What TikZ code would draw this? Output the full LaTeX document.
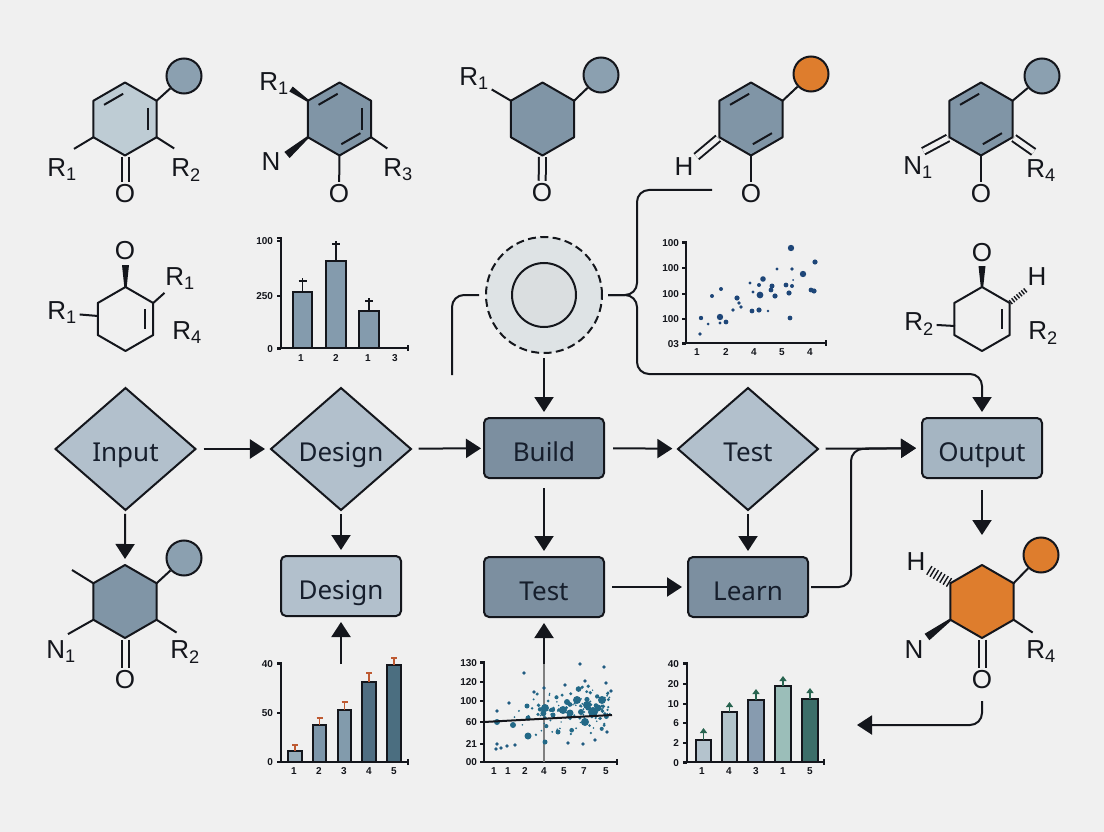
\documentclass[tikz,border=0pt]{standalone}
\usepackage{fontspec}
\setmainfont{Liberation Sans}
\newfontfamily\flowfont{Noto Sans}
\usetikzlibrary{arrows.meta,shapes.geometric,calc}

\definecolor{paper}{RGB}{240,240,240}
\definecolor{inkline}{RGB}{20,22,28}
\definecolor{flowink}{RGB}{22,30,44}
\definecolor{slatelight}{RGB}{178,192,204}
\definecolor{slatemid}{RGB}{165,181,194}
\definecolor{slatedark}{RGB}{124,143,160}
\definecolor{ringlight}{RGB}{190,204,212}
\definecolor{ringmid}{RGB}{128,149,166}
\definecolor{ballblue}{RGB}{139,160,176}
\definecolor{accent}{RGB}{222,125,45}
\definecolor{hubfill}{RGB}{222,227,229}
\definecolor{barblue}{RGB}{132,155,173}
\definecolor{errred}{RGB}{190,90,50}
\definecolor{errgreen}{RGB}{40,100,80}
\definecolor{dotnavy}{RGB}{30,70,120}
\definecolor{dotteal}{RGB}{35,105,135}

% Cycle: sommets t, ur, lr, b, ll, ul
\newcommand{\hexring}[5]{
    \path (#2,#3) coordinate (#1)
        +(-90:#4) coordinate (#1t) +(-30:#4) coordinate (#1ur)
        +(30:#4) coordinate (#1lr) +(90:#4) coordinate (#1b)
        +(150:#4) coordinate (#1ll) +(210:#4) coordinate (#1ul);
    \draw[bond, fill=#5] (#1t) -- (#1ur) -- (#1lr) -- (#1b) -- (#1ll) -- (#1ul) -- cycle;
}
% Liaison interieure
\newcommand{\innerbond}[3]{
    \draw[bond] ($(#1#2)!.08!(#1#3)!.28!(#1)$) -- ($(#1#3)!.08!(#1#2)!.28!(#1)$);
}
\newcommand{\wedgebond}[3]{
    \fill[inkline] ($(#1)!1.2pt!90:(#2)$) -- ($(#2)!#3!-90:(#1)$) -- ($(#2)!#3!90:(#1)$) -- ($(#1)!1.2pt!-90:(#2)$) -- cycle;
}
\newcommand{\hashbond}[3]{
    \foreach \t in {.06,.2,.34,.48,.62,.76,.9}
        \draw[inkline, line width=1.4pt] ($(#1)!\t!(#2)!#3!90:(#2)$) -- ($(#1)!\t!(#2)!#3!-90:(#2)$);
}
\newcommand{\chartaxes}[4]{
    \draw[chartaxis] (#1-4,#2) -- (#1,#2) -- (#1,#3);
    \draw[chartaxis] (#1-4,#3) -- (#4,#3) (#4,#3-3) -- (#4,#3+3);
}

\begin{document}
\begin{tikzpicture}[x=1pt, y=-1pt, >={Stealth[length=15pt,width=19pt,inset=0pt]},
    bond/.style={line width=2pt, draw=inkline, line join=round},
    bondto/.style={bond, shorten >=#1},
    dbond/.style={line width=2pt, draw=inkline, double=paper, double distance=5pt, shorten <=1.5pt},
    atom/.style={text=inkline, inner sep=3pt, outer sep=0pt, font=\fontsize{26}{26}\selectfont},
    ball/.style={circle, draw=inkline, line width=2pt, minimum size=35pt, inner sep=0pt, fill=ballblue},
    flowbox/.style={rectangle, rounded corners=5pt, draw=inkline, line width=2pt, minimum width=120pt,
        minimum height=60pt, inner sep=0pt, outer sep=0pt, text=flowink, text height=26pt, text depth=0pt,
        font=\flowfont\fontsize{26}{26}\selectfont},
    flowdiam/.style={diamond, aspect=1.15, draw=inkline, line width=2pt, minimum width=140pt,
        minimum height=122pt, inner sep=0pt, outer sep=0pt, text=flowink, text height=24pt, text depth=0pt,
        font=\flowfont\fontsize{26}{26}\selectfont},
    flowarrow/.style={->, line width=2pt, draw=inkline, shorten <=8pt, shorten >=6pt},
    plainline/.style={line width=2pt, draw=inkline},
    chartaxis/.style={line width=1.5pt, draw=inkline},
    barbox/.style={line width=1.5pt, draw=inkline},
    ticklabel/.style={inner sep=0pt, outer sep=0pt, text=inkline, font=\fontsize{10}{10}\selectfont\bfseries},
    errline/.style={line width=1.5pt, draw=inkline}]

    % Fond
    \fill[paper] (0,0) rectangle (1104,832);

    % Molecule 1
    \hexring{ma}{125}{119}{36.5}{ringlight}
    \innerbond{ma}{t}{ul}
    \innerbond{ma}{ur}{lr}
    \node[ball] (maball) at (184,76) {};
    \draw[bond] (maur) -- (maball);
    \node[atom] (mar) at (62,170) {R\textsubscript{1}};
    \node[atom] (mas) at (186,170) {R\textsubscript{2}};
    \node[atom] (mao) at (125,194) {O};
    \draw[bondto=14pt] (mall) -- (mar.north);
    \draw[bondto=14pt] (malr) -- (mas.north);
    \draw[dbond] (mab) -- (mao);

    % Molecule 2
    \hexring{mb}{339.5}{119}{36.5}{ringmid}
    \innerbond{mb}{t}{ul}
    \innerbond{mb}{ur}{lr}
    \innerbond{mb}{lr}{b}
    \node[atom] (mbr) at (274,84) {R\textsubscript{1}};
    \node[atom] (mbn) at (271,162) {N};
    \node[atom] (mbs) at (398,170) {R\textsubscript{3}};
    \node[atom] (mbo) at (339,194) {O};
    \coordinate (mbw) at (291,89);
    \coordinate (mbv) at (287,155);
    \wedgebond{mbul}{mbw}{3pt}
    \wedgebond{mbll}{mbv}{4pt}
    \draw[bondto=13pt] (mblr) -- (mbs.north);
    \draw[bond] (mbb) -- (mbo);

    % Molecule 3
    \hexring{mc}{542.5}{119}{36.5}{ringmid}
    \node[ball] (mcball) at (601,75) {};
    \draw[bond] (mcur) -- (mcball);
    \node[atom] (mcr) at (474,79) {R\textsubscript{1}};
    \node[atom] (mco) at (542,193) {O};
    \draw[bond] (mcul) -- (mcr);
    \draw[dbond] (mcb) -- (mco);

    % Molecule 4
    \hexring{md}{751}{119}{36.5}{ringmid}
    \innerbond{md}{t}{ul}
    \innerbond{md}{lr}{b}
    \node[ball, fill=accent] (mdball) at (811,74) {};
    \draw[bond] (mdur) -- (mdball);
    \node[atom] (mdh) at (684,167) {H};
    \node[atom] (mdo) at (751,194) {O};
    \draw[dbond] (mdll) -- (mdh);
    \draw[bond] (mdb) -- (mdo);

    % Molecule 5
    \hexring{me}{981}{119}{36.5}{ringmid}
    \innerbond{me}{t}{ul}
    \innerbond{me}{lr}{b}
    \node[ball] (meball) at (1042,76) {};
    \draw[bond] (meur) -- (meball);
    \node[atom] (men) at (918,168) {N\textsubscript{1}};
    \node[atom] (mer) at (1041,171) {R\textsubscript{4}};
    \node[atom] (meo) at (981,194) {O};
    \draw[dbond, shorten >=6pt] (mell) -- (men.north);
    \draw[dbond, shorten >=9pt] (melr) -- (mer.north);
    \draw[bond] (meb) -- (meo);

    % Molecule 6
    \hexring{mf}{125.5}{319}{32}{paper}
    \innerbond{mf}{ur}{lr}
    \node[atom] (mfo) at (125,251) {O};
    \node[atom] (mfr) at (180,279) {R\textsubscript{1}};
    \node[atom] (mfl) at (62,313) {R\textsubscript{1}};
    \node[atom] (mfs) at (187,333) {R\textsubscript{4}};
    \coordinate (mfw) at (125.5,265);
    \coordinate (mfq) at (98,316);
    \wedgebond{mft}{mfw}{3.5pt}
    \draw[bond] (mfur) -- (mfr);
    \draw[bond] (mfq) -- (mfl);

    % Molecule 7
    \hexring{mg}{982}{319}{32}{paper}
    \innerbond{mg}{ur}{lr}
    \node[atom] (mgo) at (982,253) {O};
    \node[atom] (mgh) at (1037,277) {H};
    \node[atom] (mgl) at (919,324) {R\textsubscript{2}};
    \node[atom] (mgr) at (1043,333) {R\textsubscript{2}};
    \coordinate (mgw) at (982,266);
    \coordinate (mgv) at (1027,289);
    \coordinate (mgq) at (955,326);
    \wedgebond{mgt}{mgw}{3.5pt}
    \hashbond{mgur}{mgv}{2.5pt}
    \draw[bond] (mgq) -- (mgl);

    % Molecule 8
    \hexring{mh}{125}{601.5}{36.5}{ringmid}
    \node[ball] (mhball) at (184,558) {};
    \draw[bond] (mhur) -- (mhball);
    \node[atom] (mhn) at (61,652) {N\textsubscript{1}};
    \node[atom] (mhr) at (185,652) {R\textsubscript{2}};
    \node[atom] (mho) at (125,680) {O};
    \coordinate (mhfree) at (72,570);
    \draw[bond] (mhul) -- (mhfree);
    \draw[bondto=8pt] (mhll) -- (mhn.north);
    \draw[bondto=10pt] (mhlr) -- (mhr.north);
    \draw[dbond] (mhb) -- (mho);

    % Molecule 9
    \hexring{mi}{982}{601.5}{36.5}{accent}
    \node[ball, fill=accent] (miball) at (1041,555) {};
    \draw[bond] (miur) -- (miball);
    \node[atom] (mih) at (916,562) {H};
    \node[atom] (min) at (914,650) {N};
    \node[atom] (mir) at (1041,652) {R\textsubscript{4}};
    \node[atom] (mio) at (982,680) {O};
    \coordinate (miv) at (927,569);
    \coordinate (miw) at (927,637);
    \hashbond{miul}{miv}{5pt}
    \wedgebond{mill}{miw}{4pt}
    \draw[bondto=10pt] (milr) -- (mir.north);
    \draw[dbond] (mib) -- (mio);

    % Noeuds du flux
    \node[flowdiam, fill=slatelight] (input) at (125.5,449) {Input};
    \node[flowdiam, fill=slatelight] (designd) at (341,449) {Design};
    \node[flowbox, fill=slatedark] (build) at (544,448) {Build};
    \node[flowdiam, fill=slatelight] (testd) at (748,449) {Test};
    \node[flowbox, fill=slatemid] (output) at (982,448) {Output};
    \node[flowbox, fill=slatelight] (designr) at (341,586) {Design};
    \node[flowbox, fill=slatedark] (testr) at (544,587) {Test};
    \node[flowbox, fill=slatedark] (learn) at (748,587) {Learn};
    \node[circle, draw=inkline, line width=2pt, dash pattern=on 8pt off 4.4pt, fill=hubfill,
        minimum size=116pt, inner sep=0pt, outer sep=0pt] (hub) at (544,295) {};
    \node[circle, draw=inkline, line width=2pt, fill=hubfill!98!black,
        minimum size=64pt, inner sep=0pt] (hubcore) at (544,295) {};

    % Points libres
    \coordinate (hubleft) at (452,375);
    \coordinate (hubtop) at (637,190);
    \coordinate (hubend) at (712,190);
    \coordinate (hubbus) at (637,374);
    \coordinate (junction) at (851,449);
    \coordinate (charta) at (341,664);
    \coordinate (chartb) at (544,664);
    \coordinate (chartc) at (857,725);

    % Fleches
    \draw[flowarrow] (input) -- (designd);
    \draw[flowarrow, shorten >=3pt] (designd) -- (build);
    \draw[flowarrow, shorten <=9pt] (build) -- (testd);
    \draw[flowarrow] (testd) -- (output);
    \draw[flowarrow, shorten <=4pt] (input) -- (mht);
    \draw[flowarrow, shorten <=4pt] (designd) -- (designr);
    \draw[flowarrow, shorten <=0pt] (charta) -- (designr);
    \draw[flowarrow, shorten <=10pt] (build) -- (testr);
    \draw[flowarrow, shorten <=0pt] (chartb) -- (testr);
    \draw[flowarrow] (testr) -- (learn);
    \draw[flowarrow, shorten <=4pt] (testd) -- (learn);
    \draw[flowarrow, shorten <=5pt] (hub) -- (build);
    \draw[flowarrow, shorten <=12pt, shorten >=30pt] (output) -- (mit);
    \draw[flowarrow, shorten <=3pt, rounded corners=12pt] (learn.east) -| (junction) -- (output.west);
    \draw[flowarrow, shorten <=9pt, shorten >=0pt, rounded corners=12pt] (mio.south) |- (chartc);
    \draw[plainline, shorten <=6pt, rounded corners=12pt] (hub.east) -| (hubtop) -- (hubend);
    \draw[flowarrow, shorten <=6pt, rounded corners=12pt] (hub.east) -| (hubbus) -| (output.north);
    \draw[plainline, shorten <=7pt, rounded corners=12pt] (hub.west) -| (hubleft);

    % Graphique en barres, haut
    \chartaxes{281}{238}{348}{408}
    \foreach \ty/\tl [count=\i] in {241/100,296/250,349/0} {
        \node[ticklabel, anchor=east] (cay\i) at (273,\ty) {\tl};
        \draw[chartaxis] (277,\ty) -- (281,\ty);
    }
    \foreach \tx/\tl [count=\i] in {301/1,336/2,368/1,395/3}
        \node[ticklabel] (cax\i) at (\tx,358) {\tl};
    \foreach \xa/\xb/\yt/\ye in {293/312/292/278, 326/346/261/241, 359/379/311/298} {
        \draw[barbox, fill=barblue] (\xa,348) rectangle (\xb,\yt);
        \draw[errline] ({(\xa+\xb)/2},\yt) -- ({(\xa+\xb)/2},\ye);
        \draw[errline] ({(\xa+\xb)/2-4},\ye+3) -- ({(\xa+\xb)/2+4},\ye+3);
    }

    % Nuage de points, haut
    \chartaxes{686}{242}{343}{826}
    \foreach \ty/\tl [count=\i] in {243/100,268/100,294/100,319/100,344/03} {
        \node[ticklabel, anchor=east] (cby\i) at (679,\ty) {\tl};
        \draw[chartaxis] (682,\ty) -- (686,\ty);
    }
    \foreach \tx/\tl [count=\i] in {697/1,726/2,754/4,782/5,810/4}
        \node[ticklabel] (cbx\i) at (\tx,352) {\tl};
    \foreach \px/\py/\rr in {791/248/3.2, 815/262/2.6, 777/269/1.7, 792/269/1.8, 803/274/3.2,
        763/279/2.8, 750/283/1.7, 759/285/2, 793/280/1, 772/286/2.5, 786/285/2.4, 792/286/2,
        753/292/1.7, 760/295/3.4, 771/290/2.4, 775/296/2.6, 789/293/2.6, 811/290/2.4, 814/291/2.6,
        712/296/2, 721/289/2, 737/298/2.6, 739/303/1.8, 741/307/1.8, 733/310/1.8, 752/311/2.4,
        759/310/2.6, 768/311/1.4, 790/318/2.4, 701/318/2.2, 708/324/1.5, 720/317/3.2, 720/323/1.6,
        726/322/2.4, 700/334/1.8}
        \fill[dotnavy] (\px,\py) circle (\rr pt);

    % Graphique en barres, bas gauche
    \chartaxes{281}{663}{762}{408}
    \foreach \ty/\tl [count=\i] in {664/40,713/50,762/0} {
        \node[ticklabel, anchor=east] (ccy\i) at (273,\ty) {\tl};
        \draw[chartaxis] (277,\ty) -- (281,\ty);
    }
    \foreach \tx/\tl [count=\i] in {294/1,319/2,344/3,369/4,394/5}
        \node[ticklabel] (ccx\i) at (\tx,771) {\tl};
    \foreach \xa/\xb/\yt/\ye/\col in {288/302/751/745/{150,172,185}, 313/326/725/718/{125,150,170},
        338/351/710/702/{130,155,172}, 362/376/682/673/{80,110,130}, 387/401/665/658/{75,110,128}} {
        \definecolor{barcol}{RGB}{\col}
        \draw[barbox, fill=barcol] (\xa,762) rectangle (\xb,\yt);
        \draw[errline, errred] ({(\xa+\xb)/2},\yt) -- ({(\xa+\xb)/2},\ye);
        \draw[errline, errred, line width=2pt] ({(\xa+\xb)/2-3},\ye) -- ({(\xa+\xb)/2+3},\ye);
    }

    % Nuage de points, bas milieu
    \chartaxes{484}{662}{762}{617}
    \foreach \ty/\tl [count=\i] in {663/130,682/120,701/100,722/60,744/21,762/00} {
        \node[ticklabel, anchor=east] (cdy\i) at (477,\ty) {\tl};
        \draw[chartaxis] (480,\ty) -- (484,\ty);
    }
    \foreach \tx/\tl [count=\i] in {494/1,508/1,525/2,544/4,564/5,584/7,606/5}
        \node[ticklabel] (cdx\i) at (\tx,771) {\tl};
    \draw[gray, line width=1.2pt] (544,664) -- (544,762);
    \pgfmathsetseed{42}
    \foreach \i in {1,...,130} {
        \pgfmathsetmacro\px{505+105*sqrt(rnd)}
        \pgfmathsetmacro\py{718-0.07*(\px-484)+26*(rnd+rnd-1)}
        \pgfmathsetmacro\rr{0.8+2.2*rnd*rnd}
        \fill[dotteal] (\px,\py) circle (\rr pt);
    }
    \foreach \px/\py/\rr in {563/710/4, 577/700/4, 587/705/4, 593/712/5, 602/700/4, 585/722/4,
        545/708/4, 528/736/3.5, 513/725/3, 527/706/2.5, 567/702/3, 497/722/3, 570/713/3.5,
        558/732/2.5, 545/742/2.5, 528/718/2.5, 598/708/3.5, 581/712/3, 553/715/2.5}
        \fill[dotteal] (\px,\py) circle (\rr pt);
    \foreach \px/\py in {524/673, 580/664, 604/667, 611/691, 606/683, 585/681, 565/685, 544/688,
        534/692, 509/703, 497/711, 497/744, 496/749, 501/748, 507/746, 515/745, 568/743,
        583/744, 595/740, 607/732}
        \fill[dotteal!60!dotnavy] (\px,\py) circle (1.9pt);
    \draw[chartaxis, line width=2pt] (484,722) -- (612,715);

    % Graphique en barres, bas droite
    \chartaxes{687}{663}{762}{824}
    \foreach \ty/\tl [count=\i] in {664/40,684/20,704/10,723/6,743/2,763/0} {
        \node[ticklabel, anchor=east] (cey\i) at (679,\ty) {\tl};
        \draw[chartaxis] (683,\ty) -- (687,\ty);
    }
    \foreach \tx/\tl [count=\i] in {702/1,729/4,756/3,783/1,810/5}
        \node[ticklabel] (cex\i) at (\tx,771) {\tl};
    \foreach \xa/\xb/\yt/\ye/\col in {696/711/740/728/{180,195,205}, 722/737/712/702/{178,196,203},
        748/764/700/689/{135,155,175}, 775/791/686/676/{155,190,185}, 802/818/699/688/{60,110,105}} {
        \definecolor{barcol}{RGB}{\col}
        \draw[barbox, fill=barcol] (\xa,762) rectangle (\xb,\yt);
        \draw[line width=1.5pt, draw=errgreen, -{Stealth[length=5pt,width=7pt,inset=0pt]}]
            ({(\xa+\xb)/2},\yt) -- ({(\xa+\xb)/2},\ye);
    }
\end{tikzpicture}
\end{document}
